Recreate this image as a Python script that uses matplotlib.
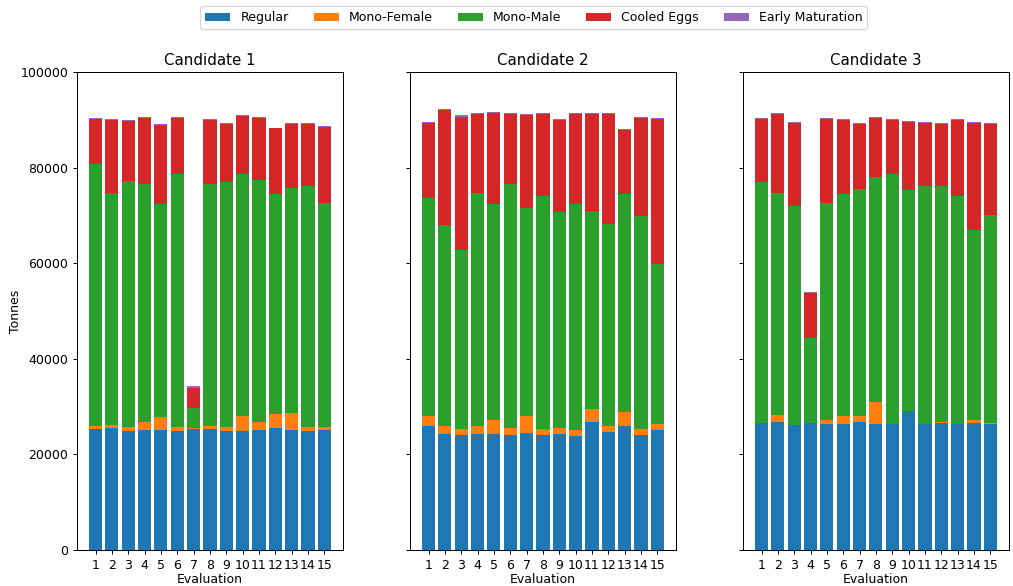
import numpy as np
import matplotlib.pyplot as plt

evaluations = np.arange(1, 16)
labels = ['Regular', 'Mono-Female', 'Mono-Male', 'Cooled Eggs', 'Early Maturation']
colors = ['#1f77b4', '#ff7f0e', '#2ca02c', '#d62728', '#9467bd']

# tonnes per evaluation, one list per category
c1_regular = [25300, 25500, 24800, 25050, 25050, 24800, 25300, 25300, 24800, 24800, 25050, 25500, 25050, 24800, 25050]
c1_female = [600, 600, 900, 1650, 2750, 900, 200, 600, 900, 3200, 1650, 2900, 3550, 900, 650]
c1_male = [54900, 48700, 51600, 49800, 44600, 52900, 4200, 50600, 51400, 50700, 50800, 46100, 47200, 50500, 47000]
c1_cooled = [9400, 15200, 12500, 13900, 16600, 11800, 4300, 13500, 12000, 12100, 12800, 13700, 13300, 12900, 15900]
c1_early = [250, 250, 250, 300, 200, 300, 300, 250, 200, 250, 200, 150, 200, 200, 200]

c2_regular = [25900, 24200, 24000, 24200, 24200, 24000, 24400, 24000, 24200, 23800, 26700, 24600, 25900, 24000, 25050]
c2_female = [2100, 1700, 1300, 1700, 2900, 1500, 3600, 1300, 1300, 1250, 2900, 1300, 2900, 1300, 1250]
c2_male = [45700, 42200, 37500, 48900, 45200, 51000, 43600, 48800, 45200, 47250, 41400, 42400, 45600, 44600, 33600]
c2_cooled = [15700, 24000, 27900, 16400, 19200, 14700, 19500, 17100, 19300, 18900, 20200, 22900, 13400, 20500, 30300]
c2_early = [250, 250, 250, 250, 250, 250, 200, 250, 250, 250, 250, 250, 250, 250, 250]

c3_regular = [26500, 26700, 26100, 26500, 26300, 26300, 26700, 26300, 26300, 29000, 26300, 26500, 26300, 26500, 26300]
c3_female = [0, 1500, 0, 0, 800, 1700, 1300, 4600, 0, 0, 0, 300, 0, 800, 200]
c3_male = [50400, 46600, 45900, 17800, 45600, 46500, 47600, 47200, 52400, 46400, 49800, 49400, 47800, 39700, 43700]
c3_cooled = [13300, 16400, 17400, 9400, 17500, 15500, 13500, 12300, 11200, 14200, 13300, 12900, 15900, 22400, 18900]
c3_early = [250, 250, 250, 250, 250, 250, 200, 250, 200, 200, 200, 200, 250, 200, 200]

candidates = {
    'Candidate 1': [c1_regular, c1_female, c1_male, c1_cooled, c1_early],
    'Candidate 2': [c2_regular, c2_female, c2_male, c2_cooled, c2_early],
    'Candidate 3': [c3_regular, c3_female, c3_male, c3_cooled, c3_early],
}

fig, axes = plt.subplots(1, 3, sharey=True, figsize=(1013 / 90, 586 / 90), dpi=90)
fig.subplots_adjust(left=0.076, right=0.996, bottom=0.0614, top=0.877, wspace=0.252)

for ax, (name, parts) in zip(axes, candidates.items()):
    bottom = np.zeros(len(evaluations))
    for vals, lab, col in zip(parts, labels, colors):
        ax.bar(evaluations, vals, 0.8, bottom=bottom, color=col, label=lab)
        bottom += np.array(vals)
    ax.set_title(name, fontsize=12)
    ax.set_xticks(evaluations)
    ax.set_xlabel('Evaluation', labelpad=1)
    ax.set_ylim(0, 100000)

axes[0].set_ylabel('Tonnes', labelpad=-1)
axes[0].set_yticks(np.arange(0, 100001, 20000))

handles, labs = axes[0].get_legend_handles_labels()
fig.legend(handles, labs, loc='upper center', ncol=5, bbox_to_anchor=(0.527, 1.0))

fig.savefig('out.png', dpi=90)
